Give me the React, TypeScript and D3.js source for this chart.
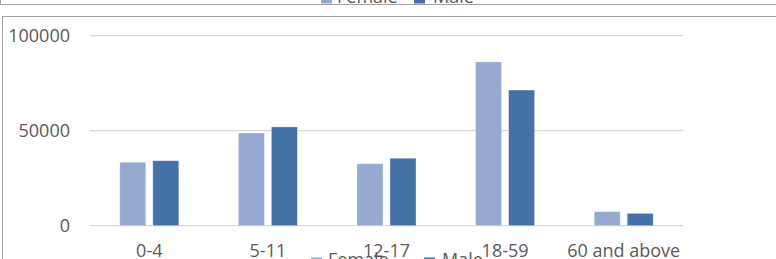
import * as d3 from "d3";

const categories = ["0-4", "5-11", "12-17", "18-59", "60 and above"];
const seriesNames = ["Female", "Male"];
const female = [33400, 48800, 32600, 86200, 7400];
const male = [34200, 52000, 35500, 71400, 6500];
const yTicks = [0, 50000, 100000];
const colors = ["#95a9d1", "#4472a8"];

const W = 776;
const H = 259;
const font = "'Open Sans', 'Noto Sans', sans-serif";
const textColor = "#595959";

export default function App() {
  const x0 = d3.scaleBand<string>().domain(categories).range([90, 683]).padding(0);
  const x1 = d3
    .scaleBand<string>()
    .domain(seriesNames)
    .range([x0.bandwidth() / 2 - 29.5, x0.bandwidth() / 2 + 29.5])
    .paddingInner(0.2121);
  const y = d3.scaleLinear().domain([0, 100000]).range([225.7, 35.7]);

  const values = [female, male];

  // legend pieces reused twice (cut off top + cut off bottom)
  const legend = (sx: number[], tx: number[], sy: number, ty: number) =>
    seriesNames.map((s, i) => (
      <g key={s}>
        <rect x={sx[i]} y={sy} width={11} height={11} fill={colors[i]} />
        <text x={tx[i]} y={ty} fontSize={18} fill={textColor} fontFamily={font}>
          {s}
        </text>
      </g>
    ));

  return (
    <svg
      width={W}
      height={H}
      style={{ position: "absolute", left: 0, top: 0, background: "#fff" }}
    >
      {/* previous chart's frame, cut off */}
      {legend([321, 414], [337, 433], -7.5, 3)}
      <line x1={0} x2={W} y1={4.5} y2={4.5} stroke="#a0a0a0" />
      <line x1={0.5} x2={0.5} y1={0} y2={4.5} stroke="#a0a0a0" />

      {/* this chart's frame */}
      <rect x={2.5} y={16.5} width={W + 10} height={H + 10} fill="none" stroke="#a0a0a0" />

      {/* gridlines */}
      {yTicks.map((t) => (
        <g key={t}>
          <line x1={90} x2={683} y1={y(t)} y2={y(t)} stroke="#d9d9d9" strokeWidth={1.3} />
          <text
            x={70}
            y={y(t) + 6.5}
            textAnchor="end"
            fontSize={18}
            fill={textColor}
            fontFamily={font}
          >
            {t}
          </text>
        </g>
      ))}

      {/* bars */}
      {categories.map((c, ci) => (
        <g key={c} transform={`translate(${x0(c)},0)`}>
          {seriesNames.map((s, si) => (
            <rect
              key={s}
              x={x1(s)}
              y={y(values[si][ci])}
              width={x1.bandwidth()}
              height={y(0) - y(values[si][ci])}
              fill={colors[si]}
              stroke="#ffffff"
              strokeOpacity={0.4}
              strokeWidth={0.8}
            />
          ))}
          <text
            x={x0.bandwidth() / 2}
            y={256.5}
            textAnchor="middle"
            fontSize={18}
            fill={textColor}
            fontFamily={font}
          >
            {c}
          </text>
        </g>
      ))}

      {/* legend, cut off at bottom */}
      {legend([311, 424], [328, 442], 257.5, 266)}
    </svg>
  );
}
